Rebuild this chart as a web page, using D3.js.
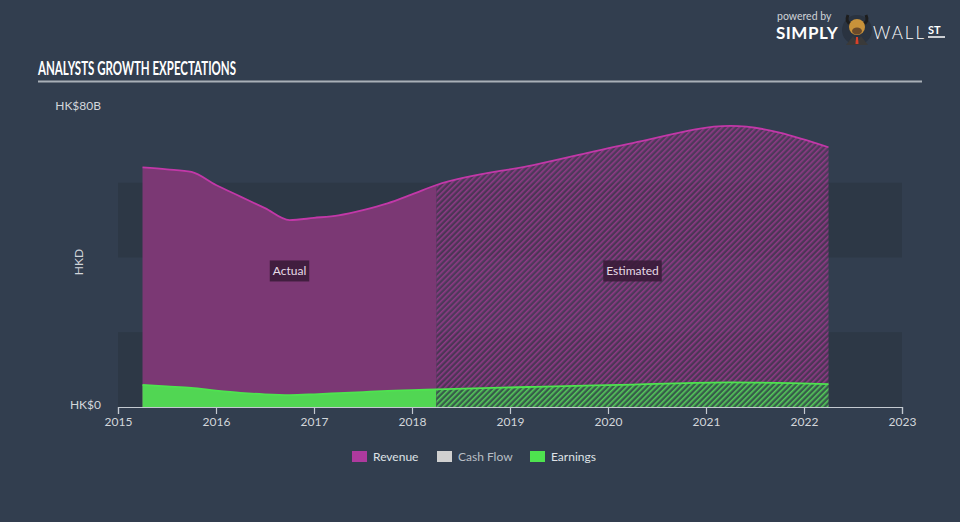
<!DOCTYPE html>
<html><head><meta charset="utf-8">
<script src="https://cdn.jsdelivr.net/npm/d3@7/dist/d3.min.js"></script>
<style>
html,body{margin:0;padding:0;background:#323e4f;}
svg{display:block;}
text{font-family:Lato,"Open Sans",sans-serif;}
</style></head>
<body><svg id="c" width="960" height="522"></svg>
<script>
// ---- data ----
const years    = [2015.25,2015.5,2015.75,2016.0,2016.25,2016.5,2016.75,2017.0,2017.25,2017.5,2017.75,2018.0,2018.25,2019.25,2020.25,2021.25,2022.25];
const revenue  = [64.1,63.6,62.9,59.4,56.3,53.2,50.0,50.6,51.3,52.7,54.5,56.9,59.4,64.8,70.6,75.2,69.5];
const earnings = [5.9,5.5,5.1,4.4,3.8,3.4,3.2,3.4,3.7,4.0,4.3,4.5,4.7,5.4,6.0,6.6,6.1];
const estimateStart = 2018.25;
const xTicks = [2015,2016,2017,2018,2019,2020,2021,2022,2023];
const yTicks = [0,80];
const yTickLabels = ["HK$0","HK$80B"];
const legendItems = ["Revenue","Cash Flow","Earnings"];
const title = "ANALYSTS GROWTH EXPECTATIONS";

const svg = d3.select("#c");
const W=960,H=522;
svg.append("rect").attr("width",W).attr("height",H).attr("fill","#323e4f");

const x = d3.scaleLinear().domain([2015,2023]).range([118,902]);
const y = d3.scaleLinear().domain([0,80]).range([407,108]);

// bands
[[0,20],[40,60]].forEach(b=>{
  svg.append("rect").attr("x",x(2015)).attr("width",x(2023)-x(2015))
    .attr("y",y(b[1])).attr("height",y(b[0])-y(b[1])).attr("fill","#2d3846");
});

// title
svg.append("text").attr("x",38).attr("y",75).text(title)
  .attr("font-family","'Liberation Sans Narrow','DejaVu Sans Condensed',sans-serif")
  .attr("font-weight","bold").attr("font-size",18).attr("fill","#ffffff")
  .attr("textLength",198).attr("lengthAdjust","spacingAndGlyphs");
svg.append("line").attr("x1",38).attr("x2",922).attr("y1",81.5).attr("y2",81.5)
  .attr("stroke","#a9b0b8").attr("stroke-width",2);

// patterns
const defs = svg.append("defs");
function hatch(id, bg, stripe){
  const p = defs.append("pattern").attr("id",id).attr("patternUnits","userSpaceOnUse")
    .attr("width",4).attr("height",4).attr("patternTransform","rotate(45)");
  p.append("rect").attr("width",4).attr("height",4).attr("fill",bg);
  p.append("rect").attr("width",1.6).attr("height",4).attr("fill",stripe);
}
hatch("hRev","rgba(110,50,105,0.45)","#8e3a85");
hatch("hEarn","rgba(60,120,70,0.5)","#55c95a");

defs.append("clipPath").attr("id","clipA").append("rect")
  .attr("x",0).attr("y",0).attr("width",x(estimateStart)).attr("height",H);
defs.append("clipPath").attr("id","clipE").append("rect")
  .attr("x",x(estimateStart)).attr("y",0).attr("width",W).attr("height",H);

const data = years.map((t,i)=>({t, r:revenue[i], e:earnings[i]}));
const areaR = d3.area().curve(d3.curveMonotoneX).x(d=>x(d.t)).y0(y(0)).y1(d=>y(d.r));
const areaE = d3.area().curve(d3.curveMonotoneX).x(d=>x(d.t)).y0(y(0)).y1(d=>y(d.e));
const lineR = d3.line().curve(d3.curveMonotoneX).x(d=>x(d.t)).y(d=>y(d.r));
const lineE = d3.line().curve(d3.curveMonotoneX).x(d=>x(d.t)).y(d=>y(d.e));

const gA = svg.append("g").attr("clip-path","url(#clipA)");
gA.append("path").attr("d",areaR(data)).attr("fill","#7b3874");
gA.append("path").attr("d",areaE(data)).attr("fill","#51d653");
const gE = svg.append("g").attr("clip-path","url(#clipE)");
gE.append("path").attr("d",areaR(data)).attr("fill","url(#hRev)");
gE.append("path").attr("d",areaE(data)).attr("fill","#323e4f");
gE.append("path").attr("d",areaE(data)).attr("fill","url(#hEarn)");

svg.append("path").attr("d",lineR(data)).attr("fill","none").attr("stroke","#c238a8").attr("stroke-width",1.8);
svg.append("path").attr("d",lineE(data)).attr("fill","none").attr("stroke","#4ee34f").attr("stroke-width",1.8);

// Actual / Estimated labels
function boxLabel(cx, cy, txt){
  const g = svg.append("g");
  const t = g.append("text").attr("x",cx).attr("y",cy).attr("text-anchor","middle")
    .attr("dominant-baseline","central").attr("font-size",12).attr("fill","#e6dbe6").text(txt);
  const bb = t.node().getBBox();
  g.insert("rect","text").attr("x",bb.x-3).attr("y",cy-10.5).attr("width",bb.width+6).attr("height",21)
    .attr("fill","#3b1c3a").attr("fill-opacity",0.9);
}
boxLabel((x(years[0])+x(estimateStart))/2, y(36.4), "Actual");
boxLabel((x(estimateStart)+x(years[years.length-1]))/2, y(36.4), "Estimated");

// x axis
const ax = svg.append("g").attr("transform",`translate(0,${y(0)})`)
  .call(d3.axisBottom(x).tickValues(xTicks).tickFormat(d3.format("d")).tickSize(7).tickPadding(3));
ax.select(".domain").attr("stroke","#c3c9d0").attr("stroke-width",1.2);
ax.selectAll(".tick line").attr("stroke","#c3c9d0").attr("stroke-width",1.2);
ax.selectAll(".tick text").attr("fill","#d2d6db").attr("font-size",12)
  .attr("font-family","Lato,'Open Sans',sans-serif");

// y labels
yTicks.forEach((v,i)=>{
  svg.append("text").attr("x",101).attr("y",y(v)-3).attr("text-anchor","end")
    .attr("dominant-baseline","central").attr("font-size",12).attr("fill","#d2d6db").text(yTickLabels[i]);
});
svg.append("text").attr("transform","translate(78,262) rotate(-90)").attr("text-anchor","middle")
  .attr("dominant-baseline","central").attr("font-size",12).attr("fill","#d2d6db").text("HKD");

// legend
const legendColors = ["#ae3a9e","#d0d0d0","#4ee34f"];
const legendX = [352,437,530];
legendItems.forEach((name,i)=>{
  svg.append("rect").attr("x",legendX[i]).attr("y",451).attr("width",15).attr("height",11).attr("fill",legendColors[i]);
  svg.append("text").attr("x",legendX[i]+21).attr("y",456.5).attr("dominant-baseline","central")
    .attr("font-size",12).attr("fill",i===1?"#b9bec5":"#dfe2e6").text(name);
});

// logo
svg.append("text").attr("x",777).attr("y",20).attr("font-size",10.5).attr("fill","#cfd3d8").text("powered by");
svg.append("text").attr("x",776).attr("y",39).attr("font-size",17).attr("font-weight","bold")
  .attr("fill","#ffffff").attr("letter-spacing",0.5).text("SIMPLY");
const logo = svg.append("g").attr("transform","translate(857,30)");
logo.append("circle").attr("r",15).attr("fill","#2a3340");
logo.append("path").attr("d","M-9,-15 Q-12,-8 -6,-6 M9,-15 Q12,-8 6,-6").attr("stroke","#1d1d1d").attr("stroke-width",3).attr("fill","none");
logo.append("ellipse").attr("cx",0).attr("cy",-3).attr("rx",8).attr("ry",8).attr("fill","#c8923a");
logo.append("ellipse").attr("cx",0).attr("cy",1).attr("rx",5).attr("ry",3.5).attr("fill","#6a4a2a");
logo.append("path").attr("d","M-11,15 L-4,6 L0,12 L4,6 L11,15 Z").attr("fill","#3a3a3a");
logo.append("path").attr("d","M-1,7 L1,7 L1.5,14 L-1.5,14 Z").attr("fill","#d9402a");
svg.append("text").attr("x",873).attr("y",39).attr("font-size",17).attr("font-weight",300)
  .attr("fill","#ffffff").attr("letter-spacing",2).text("WALL");
svg.append("text").attr("x",928).attr("y",34).attr("font-size",11).attr("font-weight","bold")
  .attr("fill","#ffffff").text("ST");
svg.append("line").attr("x1",928).attr("x2",945).attr("y1",37).attr("y2",37).attr("stroke","#fff").attr("stroke-width",1.5);
</script></body></html>
